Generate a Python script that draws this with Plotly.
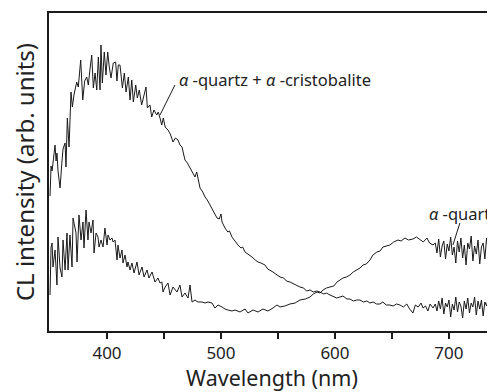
import plotly.graph_objects as go

# alpha-quartz + alpha-cristobalite spectrum (upper curve)
wl_a = [350.0, 350.9, 351.8, 352.6, 354.4, 355.3, 356.1, 357.0, 358.8, 360.5, 361.4, 363.2, 364.0, 365.2,
        366.7, 368.4, 369.6, 371.0, 371.9, 373.4, 374.8, 376.9, 378.7, 380.4, 382.2, 383.6, 385.1, 386.6,
        388.0, 389.5, 391.0, 392.4, 393.9, 394.7, 395.9, 397.6, 399.1, 400.6, 402.0, 403.5, 405.5, 407.6,
        408.7, 409.9, 411.4, 413.5, 415.2, 416.7, 418.7, 420.2, 421.7, 423.1, 425.2, 426.6, 428.3, 430.4,
        432.5, 434.2, 435.4, 437.7, 439.2, 441.2, 443.6, 445.0, 446.5, 448.0, 449.4, 451.0, 453.5, 455.5,
        457.9, 460.0, 462.3, 464.0, 465.8, 467.0, 468.4, 470.5, 472.8, 475.0, 477.2, 478.7, 480.0, 481.6,
        484.0, 486.0, 488.0, 490.4, 493.0, 494.5, 496.5, 498.5, 500.0, 500.9, 502.0, 503.5, 506.0, 507.5,
        509.6, 512.0, 514.9, 517.5, 519.0, 521.1, 524.0, 527.2, 530.0, 532.5, 535.0, 538.6, 541.0, 543.0,
        545.6, 548.0, 551.8, 555.0, 557.5, 560.5, 564.0, 566.5, 569.3, 572.5, 575.0, 578.1, 581.0, 584.0,
        586.8, 590.0, 592.5, 595.6, 598.0, 601.5, 604.4, 607.0, 610.5, 613.2, 616.0, 619.0, 621.9, 625.0,
        628.0, 630.7, 633.5, 636.5, 639.5, 642.0, 645.0, 648.2, 651.0, 654.0, 657.0, 660.0, 663.0, 665.5,
        668.4, 670.5, 673.0, 675.5, 677.2, 679.5, 681.5, 683.5, 686.0, 688.0, 689.5, 691.0, 692.5, 694.0,
        695.5, 697.0, 698.5, 700.0, 701.5, 703.0, 704.5, 706.0, 707.5, 709.0, 710.5, 712.0, 713.5, 715.0,
        716.5, 718.0, 719.5, 721.0, 722.5, 724.0, 725.5, 727.0, 728.5, 730.0, 731.5, 733.0, 734.5, 736.0,
        737.5, 739.0, 740.5]
int_a = [135, 165, 160, 168, 186, 170, 178, 160, 143, 170, 182, 188, 164, 213,
         184, 239, 224, 236, 241, 249, 244, 271, 231, 250, 254, 246, 262, 276,
         243, 258, 241, 274, 241, 286, 248, 279, 256, 279, 264, 253, 268, 269,
         250, 266, 266, 243, 258, 239, 254, 231, 251, 229, 246, 233, 241, 226,
         236, 244, 223, 226, 214, 221, 216, 219, 213, 206, 213, 204, 201, 197,
         189, 193, 191, 186, 184, 177, 171, 168, 163, 159, 154, 159, 150, 143,
         139, 134, 131, 126, 121, 118, 113, 112, 117, 109, 106, 103, 99, 100,
         94, 90, 86, 83, 84, 79, 77, 74, 71, 69, 68, 66, 62, 61,
         59, 57, 54, 53, 50, 49, 47, 45, 44, 43, 40, 41, 39, 40,
         39, 37, 38, 36, 35, 33, 34, 35, 32, 32, 30, 31, 31, 29,
         30, 28, 29, 27, 27, 29, 26, 26, 25, 27, 26, 24, 27, 22,
         18, 26, 24, 28, 23, 25, 20, 27, 23, 27, 20, 30, 22, 33,
         17, 28, 24, 31, 14, 27, 21, 34, 19, 29, 25, 13, 30, 22,
         33, 18, 28, 24, 34, 16, 30, 22, 31, 15, 29, 25, 33, 19,
         30, 14, 27]

# alpha-quartz spectrum (lower curve)
wl_b = [350.0, 350.9, 351.8, 352.6, 354.4, 356.1, 357.0, 358.8, 360.5, 361.4, 363.2, 364.9, 365.8, 367.5,
        369.3, 370.2, 372.8, 373.7, 375.4, 377.2, 378.9, 379.8, 381.6, 383.3, 384.2, 386.0, 387.7, 388.6,
        390.4, 392.1, 393.0, 394.7, 396.5, 398.2, 400.0, 400.9, 402.6, 404.4, 405.3, 407.0, 408.8, 409.6,
        411.4, 413.2, 414.0, 415.8, 417.5, 418.4, 420.2, 421.9, 423.7, 426.3, 428.1, 430.7, 432.5, 435.1,
        436.8, 439.5, 442.1, 444.7, 446.5, 448.2, 449.1, 451.0, 453.5, 455.3, 457.9, 461.4, 464.0, 465.8,
        468.4, 471.1, 472.8, 474.6, 477.2, 479.8, 483.3, 486.0, 488.6, 492.1, 494.7, 497.4, 500.9, 503.5,
        506.1, 509.6, 512.3, 516.7, 521.1, 523.7, 528.1, 532.5, 536.8, 541.2, 545.6, 549.1, 551.8, 556.0,
        560.5, 565.0, 569.3, 574.0, 578.1, 581.0, 584.2, 587.0, 589.5, 592.5, 595.6, 599.0, 601.8, 604.5,
        607.0, 610.0, 613.2, 616.0, 619.3, 622.0, 624.6, 627.5, 630.7, 633.3, 636.8, 639.5, 642.1, 645.0,
        648.2, 651.5, 655.3, 658.0, 661.4, 664.5, 668.4, 671.5, 674.6, 677.5, 680.7, 683.0, 686.0, 688.0,
        689.5, 691.0, 692.5, 694.0, 695.5, 697.0, 698.5, 700.0, 701.5, 703.0, 704.5, 706.0, 707.5, 709.0,
        710.5, 712.0, 713.5, 715.0, 716.5, 718.0, 719.5, 721.0, 722.5, 724.0, 725.5, 727.0, 728.5, 730.0,
        731.5, 733.0, 734.5, 736.0, 737.5, 739.0, 740.5]
int_b = [36, 84, 88, 64, 81, 46, 94, 63, 54, 91, 61, 98, 61, 96,
         64, 113, 98, 69, 116, 91, 109, 83, 121, 91, 109, 98, 111, 78,
         98, 94, 84, 91, 84, 103, 86, 96, 91, 93, 89, 91, 71, 86,
         73, 81, 68, 76, 64, 69, 61, 68, 58, 69, 56, 64, 54, 61,
         53, 59, 49, 53, 48, 49, 39, 44, 48, 36, 44, 39, 46, 34,
         38, 33, 46, 29, 31, 29, 29, 28, 29, 28, 23, 26, 24, 22,
         21, 20, 21, 19, 22, 18, 21, 19, 22, 20, 23, 26, 24, 25,
         27, 28, 31, 32, 34, 37, 39, 38, 41, 43, 44, 45, 49, 51,
         53, 54, 56, 59, 61, 63, 66, 67, 71, 76, 79, 80, 84, 85,
         86, 89, 91, 90, 93, 91, 92, 94, 91, 89, 93, 88, 86, 88,
         78, 92, 74, 85, 90, 72, 87, 80, 94, 76, 84, 68, 90, 79,
         93, 73, 86, 66, 88, 82, 95, 70, 85, 77, 91, 67, 84, 88,
         72, 93, 79, 86, 69, 90, 78]

x_ticks = [400, 500, 600, 700]
label_mix = "<i>α</i> -quartz + <i>α</i> -cristobalite"
label_q = "<i>α</i> -quartz"

FONT = "Noto Sans, sans-serif"
LINE = "#1a1a1a"
TXT = "#222"

fig = go.Figure()
fig.add_trace(go.Scatter(x=wl_a, y=int_a, mode="lines",
                         line=dict(color=LINE, width=1), hoverinfo="skip"))
fig.add_trace(go.Scatter(x=wl_b, y=int_b, mode="lines",
                         line=dict(color=LINE, width=1), hoverinfo="skip"))

# leader lines
fig.add_shape(type="line", xref="x", yref="y", x0=446.5, y0=216, x1=459.6, y1=246,
              line=dict(color=LINE, width=1))
fig.add_shape(type="line", xref="x", yref="y", x0=709.6, y0=108, x1=703.5, y1=86,
              line=dict(color=LINE, width=1))

fig.add_annotation(x=461.0, y=252, xref="x", yref="y", text=label_mix, showarrow=False,
                   xanchor="left", yanchor="middle", font=dict(size=16.5, color=TXT, family=FONT))
fig.add_annotation(x=681.0, y=118, xref="x", yref="y", text=label_q, showarrow=False,
                   xanchor="left", yanchor="middle", font=dict(size=16.5, color=TXT, family=FONT))

# the page body adds an 8px margin, so the figure is sized 8px smaller
fig.update_layout(
    width=487, height=384,
    margin=dict(l=41, r=0, t=5, b=61, autoexpand=False),
    paper_bgcolor="white", plot_bgcolor="white",
    showlegend=False,
    font=dict(family=FONT, color=TXT),
    xaxis=dict(range=[349.1, 740.4], tickvals=x_ticks, ticks="outside", ticklen=6,
               tickwidth=1.5, tickcolor=LINE, showline=True, linecolor=LINE, linewidth=1.5,
               mirror=True, showgrid=False, zeroline=False, automargin=False,
               minor=dict(tickvals=[450, 550, 650], ticks="outside", ticklen=6,
                          tickwidth=1.5, tickcolor=LINE),
               tickfont=dict(size=17, family=FONT, color=TXT),
               title=dict(text="Wavelength (nm)", font=dict(size=21.5, family=FONT, color=TXT),
                          standoff=10)),
    yaxis=dict(range=[0, 318], showticklabels=False, ticks="", showline=True,
               linecolor=LINE, linewidth=1.5, showgrid=False, zeroline=False, automargin=False,
               title=dict(text="CL intensity (arb. units)",
                          font=dict(size=24, family=FONT, color=TXT), standoff=11)),
)

fig.write_html("out.html")
